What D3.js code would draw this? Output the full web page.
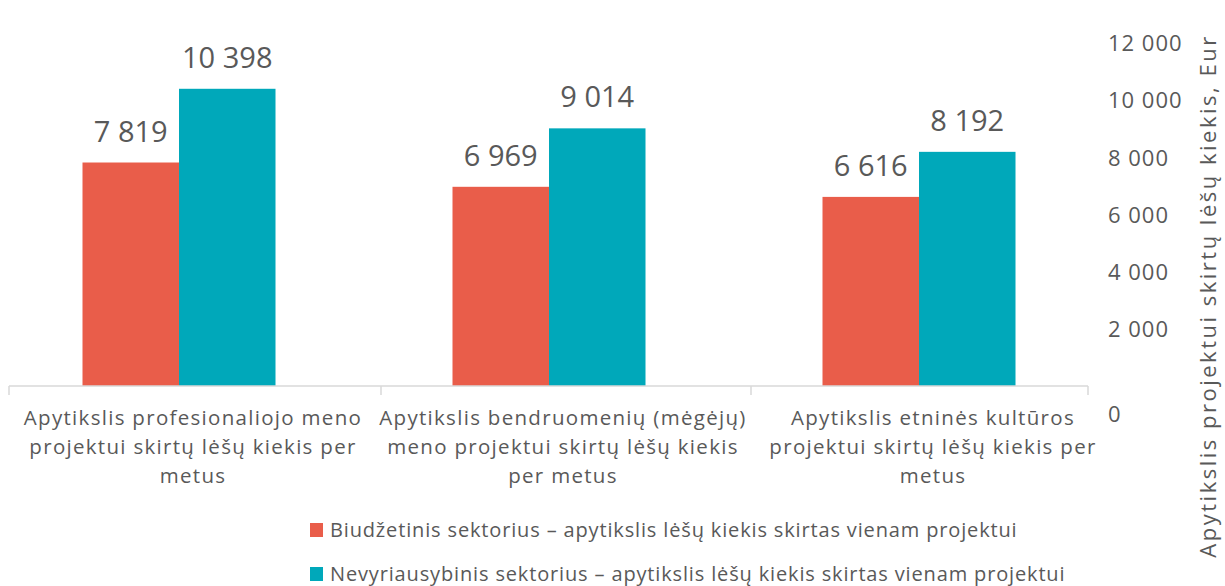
<!DOCTYPE html>
<html>
<head>
<meta charset="utf-8">
<script src="https://cdn.jsdelivr.net/npm/d3@7"></script>
<style>
  body { margin: 0; background: #fff; }
  svg text { font-family: "Open Sans", "Lato", sans-serif; fill: #595959; }
</style>
</head>
<body>
<div class="bar-chart-container"></div>
<script>
// categories, wrapped as they appear under the axis
const categories = [
   ['Apytikslis profesionaliojo meno', 'projektui skirtų lėšų kiekis per', 'metus'],
   ['Apytikslis bendruomenių (mėgėjų)', 'meno projektui skirtų lėšų kiekis', 'per metus'],
   ['Apytikslis etninės kultūros', 'projektui skirtų lėšų kiekis per', 'metus']
];
const series_names = [
   'Biudžetinis sektorius – apytikslis lėšų kiekis skirtas vienam projektui',
   'Nevyriausybinis sektorius – apytikslis lėšų kiekis skirtas vienam projektui'
];
const series_colors = ['#E95D4A', '#00A8BA'];
const budget_values = [7819, 6969, 6616];
const ngo_values = [10398, 9014, 8192];
const y_ticks = [0, 2000, 4000, 6000, 8000, 10000, 12000];
const y_title = 'Apytikslis projektui skirtų lėšų kiekis, Eur';

const width = 1225;
const height = 586;

const fmt = v => d3.format(',')(v).replace(/,/g, ' ');

const svg = d3.select('.bar-chart-container')
   .append('svg')
   .attr('width', width)
   .attr('height', height);

const keys = categories.map((c, i) => i);

// bar positions
const x0 = d3.scaleBand()
   .domain(keys)
   .range([-6, 1104]);

const x1 = d3.scaleBand()
   .domain([0, 1])
   .range([0, 193]);

const y = d3.scaleLinear()
   .domain([0, 12000])
   .range([386, 43]);

const group_offset = (x0.bandwidth() - 193) / 2;

const rows = keys.map(i => ({
   key: i,
   values: [budget_values[i], ngo_values[i]]
}));

// bars
const groups = svg.append('g')
   .selectAll('.group')
   .data(rows)
   .enter()
   .append('g')
   .attr('transform', d => `translate(${x0(d.key) + group_offset}, 0)`);

groups.selectAll('rect')
   .data(d => d.values.map((v, s) => ({s: s, v: v})))
   .enter()
   .append('rect')
   .attr('x', d => x1(d.s))
   .attr('width', x1.bandwidth())
   .attr('y', d => y(d.v))
   .attr('height', d => y(0) - y(d.v))
   .style('fill', d => series_colors[d.s]);

// value labels
groups.selectAll('.value')
   .data(d => d.values.map((v, s) => ({s: s, v: v})))
   .enter()
   .append('text')
   .attr('class', 'value')
   .attr('x', d => x1(d.s) + x1.bandwidth() / 2)
   .attr('y', d => y(d.v) - 21)
   .attr('text-anchor', 'middle')
   .style('font-size', '29px')
   .text(d => fmt(d.v));

// category axis: baseline + dividers
const axis_g = svg.append('g').attr('class', 'x axis');
axis_g.append('line')
   .attr('x1', 9).attr('x2', 1088)
   .attr('y1', y(0)).attr('y2', y(0))
   .style('stroke', '#D9D9D9').style('stroke-width', 1.5);

const dividers = [9, ...keys.slice(0, -1).map(k => x0(k) + x0.bandwidth() + 17), 1088];
axis_g.selectAll('.divider')
   .data(dividers)
   .enter()
   .append('line')
   .attr('x1', d => d).attr('x2', d => d)
   .attr('y1', y(0)).attr('y2', y(0) + 9)
   .style('stroke', '#D9D9D9').style('stroke-width', 1.5);

const cat_labels = axis_g.selectAll('.cat')
   .data(rows)
   .enter()
   .append('text')
   .attr('class', 'cat')
   .attr('text-anchor', 'middle')
   .attr('transform', d => `translate(${x0(d.key) + x0.bandwidth() / 2 + 14}, 425)`)
   .style('font-size', '20.5px')
   .style('letter-spacing', '1.3px');

cat_labels.selectAll('tspan')
   .data(d => categories[d.key])
   .enter()
   .append('tspan')
   .attr('x', 0)
   .attr('y', (d, i) => i * 29)
   .text(d => d);

// right value axis (labels only)
const y_axis = d3.axisRight(y)
   .tickValues(y_ticks)
   .tickSize(0)
   .tickPadding(0)
   .tickFormat(fmt);

const y_axis_g = svg.append('g')
   .attr('class', 'y axis')
   .attr('transform', 'translate(1108, 0)')
   .call(y_axis);
y_axis_g.select('.domain').remove();
y_axis_g.selectAll('text')
   .attr('dy', d => d === 0 ? '1.6em' : '0.35em')
   .style('font-size', '22px')
   .style('letter-spacing', '1px')
   .style('font-family', '"Open Sans", "Lato", sans-serif')
   .style('fill', '#595959');

svg.append('text')
   .attr('transform', 'translate(1216, 296) rotate(-90)')
   .attr('text-anchor', 'middle')
   .style('font-size', '22px')
   .style('letter-spacing', '2.5px')
   .text(y_title);

// legend
const legend = svg.append('g')
   .selectAll('.legend-item')
   .data(series_names)
   .enter()
   .append('g')
   .attr('transform', (d, i) => `translate(310, ${523 + i * 44})`);

legend.append('rect')
   .attr('width', 13).attr('height', 14)
   .style('fill', (d, i) => series_colors[i]);

legend.append('text')
   .attr('x', 20)
   .attr('y', 7)
   .attr('dy', '0.35em')
   .style('font-size', '20px')
   .style('letter-spacing', '0.85px')
   .text(d => d);
</script>
</body>
</html>
